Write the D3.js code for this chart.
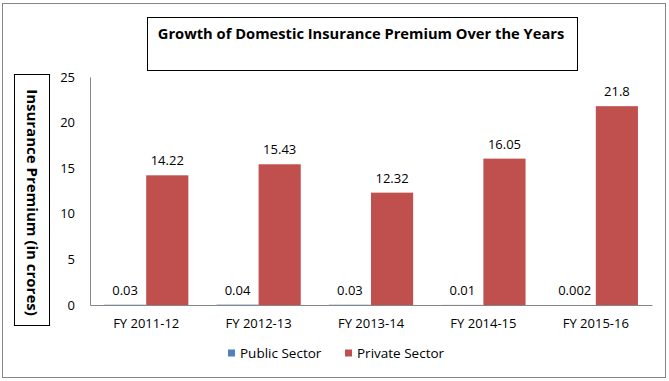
<!DOCTYPE html>
<html><head><meta charset="utf-8">
<script src="https://cdn.jsdelivr.net/npm/d3@7"></script>
<style>body{margin:0;background:#fff}svg{display:block}</style>
</head><body>
<script>
const categories = ["FY 2011-12","FY 2012-13","FY 2013-14","FY 2014-15","FY 2015-16"];
const publicSector = [0.03,0.04,0.03,0.01,0.002];
const privateSector = [14.22,15.43,12.32,16.05,21.8];
const publicLabels = ["0.03","0.04","0.03","0.01","0.002"];
const privateLabels = ["14.22","15.43","12.32","16.05","21.8"];
const yTicks = [0,5,10,15,20,25];
const seriesNames = ["Public Sector","Private Sector"];
const colors = ["#4F81BD","#C0504D"];

const W=669,H=381;
const font='"Open Sans", "Noto Sans", sans-serif';
const svg=d3.select("body").append("svg").attr("width",W).attr("height",H);
svg.append("rect").attr("x",2.5).attr("y",3.5).attr("width",663).attr("height",374)
  .attr("fill","#fff").attr("stroke","#868686");

const x0=d3.scaleBand().domain(categories).range([90,652]).paddingInner(0.25).paddingOuter(0.125);
const x1=d3.scaleBand().domain(seriesNames).range([0,x0.bandwidth()]);
const y=d3.scaleLinear().domain([0,25]).range([305,77]);

// title box
svg.append("rect").attr("x",147.5).attr("y",17.5).attr("width",430).attr("height",53)
  .attr("fill","#fff").attr("stroke","#000");
svg.append("text").attr("x",361).attr("y",38.5).attr("text-anchor","middle")
  .attr("font-family",font).attr("font-weight","bold").attr("font-size",14.7)
  .text("Growth of Domestic Insurance Premium Over the Years");

// y label box
svg.append("rect").attr("x",14.5).attr("y",74.5).attr("width",35).attr("height",251)
  .attr("fill","#fff").attr("stroke","#000");
svg.append("text").attr("transform","translate(26.5,202.5) rotate(90)").attr("text-anchor","middle")
  .attr("font-family",font).attr("font-weight","bold").attr("font-size",15)
  .text("Insurance Premium (in crores)");

// y axis
const ya=svg.append("g").attr("transform","translate(90,0)")
  .call(d3.axisLeft(y).tickValues(yTicks).tickSize(0).tickPadding(15));
ya.select(".domain").attr("stroke","#868686");
ya.selectAll("text").attr("font-family",font).attr("font-size",13).attr("fill","#000");

// bars
const g=svg.append("g");
const data=categories.map((c,i)=>({c,vals:[publicSector[i],privateSector[i]],labs:[publicLabels[i],privateLabels[i]]}));
data.forEach(d=>{
  d.vals.forEach((v,j)=>{
    const bx=x0(d.c)+x1(seriesNames[j]);
    g.append("rect").attr("x",bx).attr("y",y(v)).attr("width",x1.bandwidth())
      .attr("height",Math.max(y(0)-y(v),0)).attr("fill",colors[j]);
    g.append("text").attr("x",bx+x1.bandwidth()/2).attr("y",y(v)-10)
      .attr("text-anchor","middle").attr("font-family",font).attr("font-size",13)
      .text(d.labs[j]);
  });
});

// x axis
const xa=svg.append("g").attr("transform","translate(0,305)")
  .call(d3.axisBottom(x0).tickSize(0).tickPadding(14));
xa.select(".domain").attr("stroke","#868686");
xa.selectAll("text").attr("font-family",font).attr("font-size",13).attr("fill","#000");

// legend
const lx=[228,345];
seriesNames.forEach((n,i)=>{
  svg.append("rect").attr("x",lx[i]).attr("y",349.5).attr("width",7).attr("height",7).attr("fill",colors[i]);
  svg.append("text").attr("x",lx[i]+12).attr("y",358).attr("font-family",font).attr("font-size",13.5).text(n);
});
</script>
</body></html>
